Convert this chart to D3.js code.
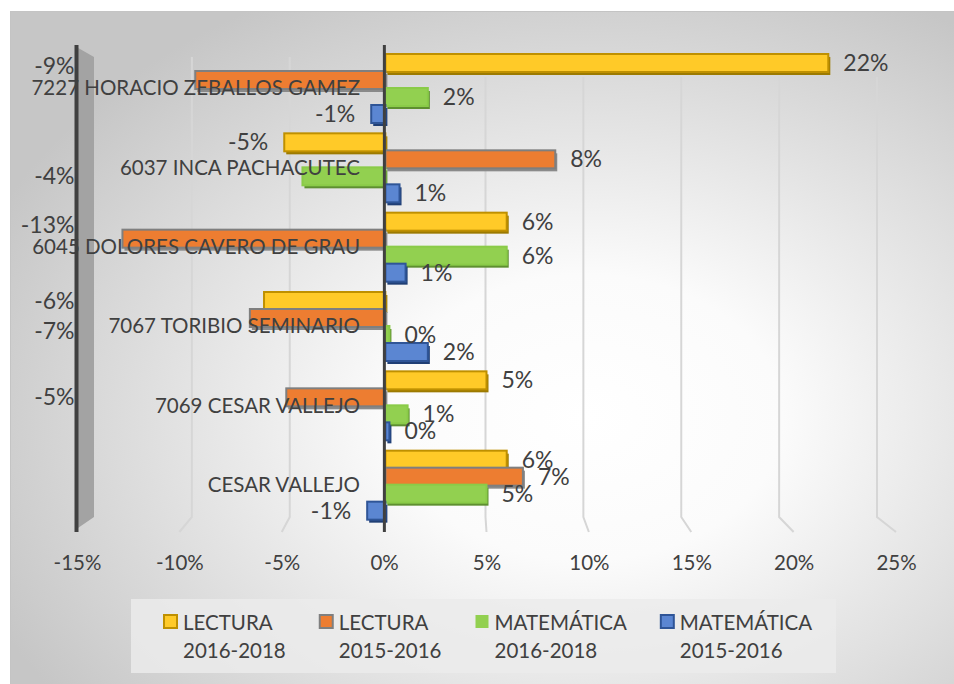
<!DOCTYPE html>
<html>
<head>
<meta charset="utf-8">
<script src="https://cdn.jsdelivr.net/npm/d3@7"></script>
<style>
  body { margin: 0; background: #fff; }
  svg text { font-family: Lato, "Open Sans", sans-serif; fill: #404040; }
</style>
</head>
<body>
<div id="chart"></div>
<script>
// categories, top to bottom
const categories = [
    "7227 HORACIO ZEBALLOS GAMEZ",
    "6037 INCA PACHACUTEC",
    "6045 DOLORES CAVERO DE GRAU",
    "7067 TORIBIO SEMINARIO",
    "7069 CESAR VALLEJO",
    "CESAR VALLEJO"
];

// series (values in %)
const lectura1618 = [21.9, -5.0, 6.0, -6.0, 5.0, 6.0];
const lectura1516 = [-9.4, 8.4, -13.0, -6.7, -4.9, 6.8];
const matematica1618 = [2.1, -4.1, 6.0, 0.2, 1.1, 5.0];
const matematica1516 = [-0.7, 0.7, 1.0, 2.1, 0.2, -0.9];

const seriesSubject = ["LECTURA", "LECTURA", "MATEMÁTICA", "MATEMÁTICA"];
const seriesPeriod = ["2016-2018", "2015-2016", "2016-2018", "2015-2016"];

const xTicks = [-15, -10, -5, 0, 5, 10, 15, 20, 25];

const seriesValues = [lectura1618, lectura1516, matematica1618, matematica1516];

// look of each series (face, outline, shadow)
const seriesStyle = [
    { fill: "#FFCA28", stroke: "#BF9000", shadow: "#9C7A00" },
    { fill: "#ED7D31", stroke: "#7F7F7F", shadow: "#8a8a8a" },
    { fill: "#92D050", stroke: "#8ACB48", shadow: "#5E8F30" },
    { fill: "#5B86D2", stroke: "#2F5597", shadow: "#203F75" }
];

const w = 954, h = 684;

const svg = d3.select("#chart").append("svg")
    .attr("width", w)
    .attr("height", h);

// background gradient of the chart area
const defs = svg.append("defs");
const bg = defs.append("radialGradient")
    .attr("id", "bg")
    .attr("cx", "0.6").attr("cy", "0.58").attr("r", "0.68");
bg.append("stop").attr("offset", "0").attr("stop-color", "#ffffff");
bg.append("stop").attr("offset", "0.3").attr("stop-color", "#fbfbfb");
bg.append("stop").attr("offset", "1").attr("stop-color", "#c6c6c6");

svg.append("rect")
    .attr("x", 10.5).attr("y", 11.5)
    .attr("width", 960).attr("height", 700)
    .attr("fill", "url(#bg)")
    .attr("stroke", "#c4c4c4");

// scales: front plane (tick labels), back wall (grid), bars
const xFront = d3.scaleLinear().domain([-15, 25]).range([77, 896]);
const xBack = d3.scaleLinear().domain([-15, 25]).range([94, 877]);
const xBar = d3.scaleLinear().domain([-15, 25]).range([82, 891]);

const yGroup = d3.scaleBand().domain(categories).range([45, 521]);
const ySeries = d3.scaleBand().domain(d3.range(4)).range([9, 77]);
const barH = 18;

// gridlines (back wall + floor edge)
const gridTop = 57, gridBottom = 517, floorFront = 532;
svg.append("g").selectAll("polyline")
    .data(xTicks.filter(t => t > -15 && t !== 0))
    .enter().append("polyline")
    .attr("fill", "none")
    .attr("stroke", "#d6d6d6")
    .attr("stroke-width", 2)
    .attr("points", t => [
        [xBack(t), t < 0 ? gridTop : gridTop + 20],
        [xBack(t), gridBottom],
        [xFront(t), floorFront]
    ].join(" "));

// left side wall
const wallX = 76.5;
svg.append("polygon")
    .attr("fill", "#a3a3a3")
    .attr("points", [
        [wallX, 47], [xBack(-15), gridTop],
        [xBack(-15), gridBottom], [wallX, 529]
    ].join(" "));
svg.append("line")
    .attr("x1", wallX).attr("x2", wallX)
    .attr("y1", 45).attr("y2", floorFront)
    .attr("stroke", "#404040").attr("stroke-width", 4);

// bars
const bars = [];
categories.forEach((c, i) => {
    seriesValues.forEach((vals, s) => {
        bars.push({ cat: c, s: s, v: vals[i] });
    });
});

const barY = d => yGroup(d.cat) + ySeries(d.s);
const barX = d => Math.min(xBar(0), xBar(d.v));
const barW = d => Math.max(2, Math.abs(xBar(d.v) - xBar(0)));

const barG = svg.append("g").selectAll("g")
    .data(bars)
    .enter().append("g");

barG.append("rect") // depth shadow
    .attr("x", d => barX(d) + 2)
    .attr("y", d => barY(d) + 3)
    .attr("width", barW)
    .attr("height", barH)
    .attr("fill", d => seriesStyle[d.s].shadow);

barG.append("rect")
    .attr("x", barX)
    .attr("y", barY)
    .attr("width", barW)
    .attr("height", barH)
    .attr("fill", d => seriesStyle[d.s].fill)
    .attr("stroke", d => seriesStyle[d.s].stroke)
    .attr("stroke-width", 2);

// category axis line at 0
svg.append("line")
    .attr("x1", xBar(0) - 1).attr("x2", xBar(0) - 1)
    .attr("y1", 45).attr("y2", floorFront)
    .attr("stroke", "#404040").attr("stroke-width", 3);

// category labels
const catY = c => yGroup(c) + 43;
const catLabels = svg.append("g").selectAll("text")
    .data(categories)
    .enter().append("text")
    .attr("x", 360)
    .attr("y", catY)
    .attr("dy", "0.35em")
    .attr("text-anchor", "end")
    .style("font-size", "20.5px")
    .text(c => c);

const catLeft = {};
catLabels.each(function (c) { catLeft[c] = this.getBBox().x; });

// data labels
const labels = svg.append("g").selectAll("text")
    .data(bars)
    .enter().append("text")
    .attr("dy", "0.35em")
    .attr("text-anchor", d => d.v >= 0 ? "start" : "end")
    .style("font-size", "23px")
    .text(d => `${Math.round(d.v) || 0}%`);

// negative labels of long bars, or ones that would hit the category name,
// are pushed out to the side wall
const wallLabels = [];
labels.each(function (d) {
    let y = barY(d) + barH / 2;
    let x;
    if (d.v >= 0) {
        x = xBar(d.v) + 15;
    } else {
        x = xBar(d.v) - 16;
        const hitsName = Math.abs(y - catY(d.cat)) < 20 && x > catLeft[d.cat];
        if (hitsName || d.v < -5.5) {
            x = wallX - 2;
            if (x > catLeft[d.cat] && Math.abs(y - catY(d.cat)) < 20) y -= 14;
            wallLabels.push({ el: this, y: y });
        }
    }
    d3.select(this).attr("x", x).attr("y", y);
});

// keep stacked wall labels apart
wallLabels.sort((a, b) => a.y - b.y);
wallLabels.forEach((l, i) => {
    if (i > 0 && l.y - wallLabels[i - 1].y < 30) {
        l.y = wallLabels[i - 1].y + 30;
        d3.select(l.el).attr("y", l.y);
    }
});

// value axis labels
const xaxis = d3.axisBottom(xFront)
    .tickValues(xTicks)
    .tickSize(0)
    .tickFormat(d => d + "%");
svg.append("g")
    .attr("transform", "translate(0,552)")
    .call(xaxis)
    .call(g => g.select(".domain").remove())
    .selectAll("text")
    .attr("fill", "#404040")
    .style("font-size", "20.5px");

// legend
const legend = svg.append("g");
legend.append("rect")
    .attr("x", 131).attr("y", 599)
    .attr("width", 705).attr("height", 74)
    .attr("fill", "#ebebeb")
    .attr("opacity", 0.85);

let lx = 163;
seriesSubject.forEach((name, s) => {
    const item = legend.append("g").attr("transform", `translate(${lx},0)`);
    item.append("rect")
        .attr("x", 1).attr("y", 615)
        .attr("width", 13).attr("height", 13)
        .attr("fill", seriesStyle[s].fill)
        .attr("stroke", s === 2 ? "none" : seriesStyle[s].stroke)
        .attr("stroke-width", 2);
    const t1 = item.append("text")
        .attr("x", 20).attr("y", 630)
        .style("font-size", "20.5px")
        .text(name);
    const t2 = item.append("text")
        .attr("x", 20).attr("y", 658)
        .style("font-size", "20.5px")
        .text(seriesPeriod[s]);
    const tw = Math.max(t1.node().getComputedTextLength(), t2.node().getComputedTextLength());
    lx += 20 + tw + 33;
});
</script>
</body>
</html>
